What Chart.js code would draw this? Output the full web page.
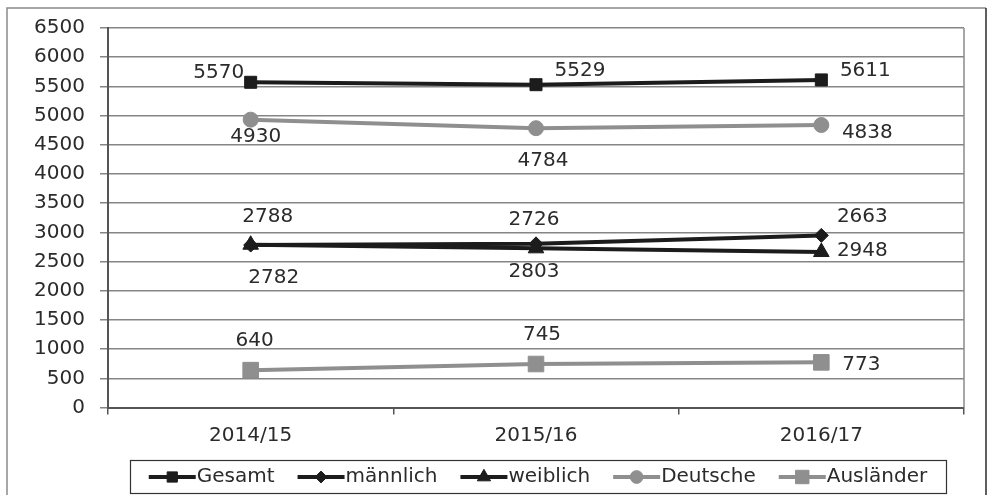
<!DOCTYPE html>
<html>
<head>
<meta charset="utf-8">
<script src="https://cdn.jsdelivr.net/npm/chart.js@4/dist/chart.umd.min.js"></script>
<style>
  html, body { margin: 0; padding: 0; background: #fff; }
  #wrap { width: 987px; height: 495px; position: relative; }
</style>
</head>
<body>
<div id="wrap"><canvas id="c"></canvas></div>
<script>
// School years on the x axis
const years = ['2014/15', '2015/16', '2016/17'];

// Pupil counts per group
const gesamt    = [5570, 5529, 5611];
const maennlich = [2782, 2803, 2948];
const weiblich  = [2788, 2726, 2663];
const deutsche  = [4930, 4784, 4838];
const auslaender = [640, 745, 773];

// Value axis range
const yMin = 0;
const yMax = 6500;
const yStep = 500;

const FONT = '"DejaVu Sans", Verdana, sans-serif';
const FSIZE = 20;
const TEXT = '#2b2b2b';
const DARK = '#1c1c1c';
const GREY = '#8f8f8f';

// Where each value label sits relative to its point (pixels)
const labelOffsets = {
  'Gesamt':    [[-32, -10], [44, -14], [44, -9]],
  'männlich':  [[23, 33], [-2, 28], [41, 15]],
  'weiblich':  [[17, -28], [-2, -29], [41, -35]],
  'Deutsche':  [[5, 17], [7, 33], [46, 8]],
  'Ausländer': [[4, -29], [6, -29], [40, 2]]
};

function series(label, data, color, style, radius, order) {
  return {
    label, data, order,
    borderColor: color, backgroundColor: color,
    pointBackgroundColor: color, pointBorderColor: color,
    borderWidth: 4, pointStyle: style, pointRadius: radius,
    pointBorderWidth: 1, pointHoverRadius: radius, tension: 0
  };
}

const datasets = [
  series('Gesamt', gesamt, DARK, 'rect', 8.5, 0),
  series('männlich', maennlich, DARK, 'rectRot', 7, 2),
  series('weiblich', weiblich, DARK, 'triangle', 9, 1),
  series('Deutsche', deutsche, GREY, 'circle', 7.5, 3),
  series('Ausländer', auslaender, GREY, 'rect', 11, 4)
];

// Frame around the whole figure and the right edge of the plot area
const framePlugin = {
  id: 'frame',
  beforeDraw(chart) {
    const ctx = chart.ctx;
    ctx.save();
    ctx.fillStyle = '#fff';
    ctx.fillRect(0, 0, chart.width, chart.height);
    ctx.lineWidth = 1.5;
    ctx.strokeStyle = '#8a8a8a';
    ctx.beginPath();
    ctx.moveTo(7, chart.height);
    ctx.lineTo(7, 8);
    ctx.lineTo(986, 8);
    ctx.stroke();
    ctx.strokeStyle = '#2a2a2a';
    ctx.beginPath();
    ctx.moveTo(986, 8);
    ctx.lineTo(986, chart.height);
    ctx.stroke();
    ctx.restore();
  },
  beforeDatasetsDraw(chart) {
    const a = chart.chartArea;
    const ctx = chart.ctx;
    ctx.save();
    ctx.strokeStyle = '#8a8a8a';
    ctx.lineWidth = 1.5;
    ctx.beginPath();
    ctx.moveTo(a.right, a.top);
    ctx.lineTo(a.right, a.bottom);
    ctx.stroke();
    ctx.restore();
  }
};

// Value labels next to each point
const valueLabels = {
  id: 'valueLabels',
  afterDatasetsDraw(chart) {
    const ctx = chart.ctx;
    ctx.save();
    ctx.font = FSIZE + 'px ' + FONT;
    ctx.fillStyle = TEXT;
    ctx.textAlign = 'center';
    ctx.textBaseline = 'middle';
    chart.data.datasets.forEach((ds, di) => {
      const meta = chart.getDatasetMeta(di);
      const offs = labelOffsets[ds.label];
      meta.data.forEach((pt, i) => {
        const o = offs[i];
        ctx.fillText(String(ds.data[i]), pt.x + o[0], pt.y + o[1]);
      });
    });
    ctx.restore();
  }
};

// Boxed legend with line-and-marker keys
const boxLegend = {
  id: 'boxLegend',
  afterDraw(chart) {
    const ctx = chart.ctx;
    const box = { x: 130, y: 460, w: 816, h: 33 };
    ctx.save();
    ctx.strokeStyle = '#333';
    ctx.lineWidth = 1.2;
    ctx.strokeRect(box.x + 0.5, box.y + 0.5, box.w, box.h);
    ctx.font = FSIZE + 'px ' + FONT;
    const lineLen = 47, textGap = 1, itemGap = 23;
    const items = chart.data.datasets.map(ds => ({ ds, tw: ctx.measureText(ds.label).width }));
    const total = items.reduce((s, it) => s + lineLen + textGap + it.tw, 0) + itemGap * (items.length - 1);
    let x = box.x + (box.w - total) / 2;
    const cy = box.y + box.h / 2 + 0.5;
    items.forEach(it => {
      const ds = it.ds;
      ctx.strokeStyle = ds.borderColor;
      ctx.lineWidth = 4;
      ctx.beginPath();
      ctx.moveTo(x, cy);
      ctx.lineTo(x + lineLen, cy);
      ctx.stroke();
      ctx.fillStyle = ds.backgroundColor;
      ctx.lineWidth = 1;
      Chart.helpers.drawPoint(ctx, {
        pointStyle: ds.pointStyle,
        radius: ds.pointStyle === 'rect' && ds.pointRadius > 10 ? 9.5 : ds.pointRadius * 0.85,
        rotation: 0, borderWidth: 1
      }, x + lineLen / 2, cy);
      ctx.fillStyle = TEXT;
      ctx.textAlign = 'left';
      ctx.textBaseline = 'middle';
      ctx.fillText(ds.label, x + lineLen + textGap, cy);
      x += lineLen + textGap + it.tw + itemGap;
    });
    ctx.restore();
  }
};

new Chart(document.getElementById('c'), {
  type: 'line',
  data: { labels: years, datasets },
  options: {
    responsive: true,
    maintainAspectRatio: false,
    animation: false,
    events: [],
    layout: { padding: { left: 0, right: 23, top: 28, bottom: 42.5 } },
    plugins: { legend: { display: false }, tooltip: { enabled: false } },
    scales: {
      x: {
        offset: true,
        afterFit(scale) { scale.height = 45; },
        grid: { offset: true, drawOnChartArea: false, drawTicks: true, tickLength: 7, color: '#555', lineWidth: 1.5 },
        border: { display: true, color: '#555', width: 2 },
        ticks: { color: TEXT, font: { family: FONT, size: FSIZE }, padding: 9, maxRotation: 0 }
      },
      y: {
        min: yMin, max: yMax,
        afterFit(scale) { scale.width = 108; },
        grid: { color: '#858585', lineWidth: 1.5, tickLength: 8, drawTicks: true },
        border: { display: true, color: '#555', width: 2 },
        ticks: {
          stepSize: yStep, color: TEXT, font: { family: FONT, size: FSIZE }, padding: 15,
          callback: v => String(v)
        }
      }
    }
  },
  plugins: [framePlugin, valueLabels, boxLegend]
});
</script>
</body>
</html>
